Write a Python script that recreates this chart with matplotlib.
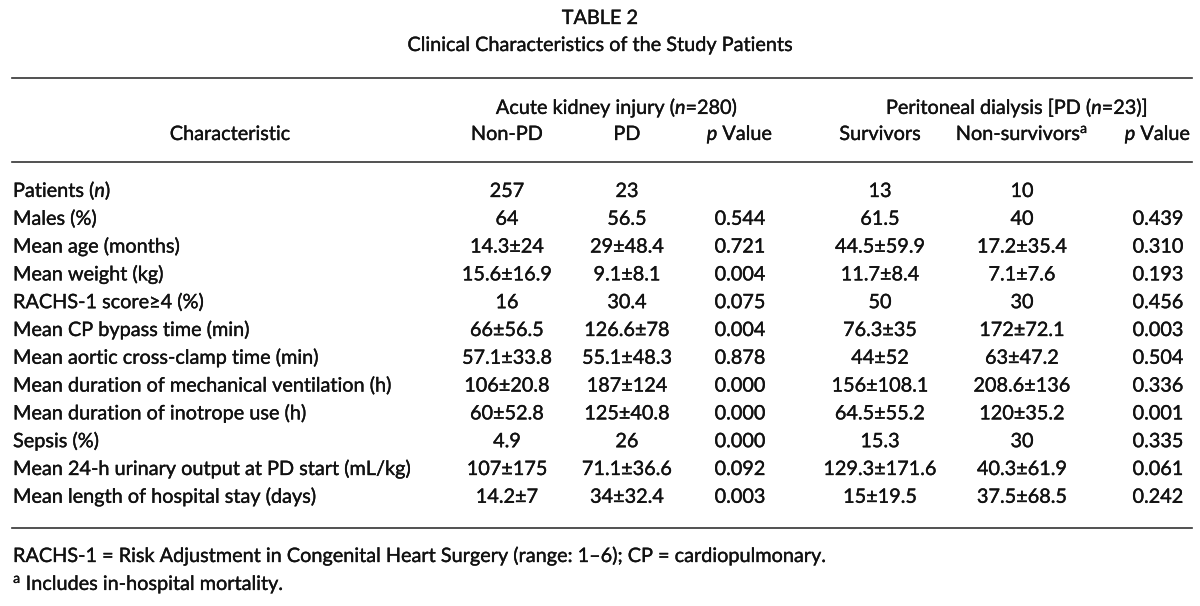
import matplotlib
matplotlib.use("Agg")
import matplotlib.pyplot as plt
import matplotlib.patheffects as pe

plt.rcParams['font.family'] = ['Lato', 'DejaVu Sans']
plt.rcParams['mathtext.fontset'] = 'custom'
plt.rcParams['mathtext.rm'] = 'Lato'
plt.rcParams['mathtext.it'] = 'Lato:italic'

title = "TABLE 2"
subtitle = "Clinical Characteristics of the Study Patients"

group_headers = [r"Acute kidney injury ($\mathit{n}$=280)",
                 r"Peritoneal dialysis [PD ($\mathit{n}$=23)]"]
col_headers = ["Characteristic", "Non-PD", "PD", r"$\mathit{p}$ Value",
               "Survivors", r"Non-survivors$^{\mathrm{a}}$", r"$\mathit{p}$ Value"]

characteristics = [
    r"Patients ($\mathit{n}$)",
    "Males (%)",
    "Mean age (months)",
    "Mean weight (kg)",
    "RACHS-1 score\u22654 (%)",
    "Mean CP bypass time (min)",
    "Mean aortic cross-clamp time (min)",
    "Mean duration of mechanical ventilation (h)",
    "Mean duration of inotrope use (h)",
    "Sepsis (%)",
    "Mean 24-h urinary output at PD start (mL/kg)",
    "Mean length of hospital stay (days)",
]
non_pd = ["257", "64", "14.3±24", "15.6±16.9", "16", "66±56.5", "57.1±33.8",
          "106±20.8", "60±52.8", "4.9", "107±175", "14.2±7"]
pd_vals = ["23", "56.5", "29±48.4", "9.1±8.1", "30.4", "126.6±78", "55.1±48.3",
           "187±124", "125±40.8", "26", "71.1±36.6", "34±32.4"]
p_aki = ["", "0.544", "0.721", "0.004", "0.075", "0.004", "0.878",
         "0.000", "0.000", "0.000", "0.092", "0.003"]
survivors = ["13", "61.5", "44.5±59.9", "11.7±8.4", "50", "76.3±35", "44±52",
             "156±108.1", "64.5±55.2", "15.3", "129.3±171.6", "15±19.5"]
non_survivors = ["10", "40", "17.2±35.4", "7.1±7.6", "30", "172±72.1", "63±47.2",
                 "208.6±136", "120±35.2", "30", "40.3±61.9", "37.5±68.5"]
p_pd = ["", "0.439", "0.310", "0.193", "0.456", "0.003", "0.504",
        "0.336", "0.001", "0.335", "0.061", "0.242"]

footnotes = ["RACHS-1 = Risk Adjustment in Congenital Heart Surgery (range: 1\u20136); CP = cardiopulmonary.",
             r"$^{\mathrm{a}}$ Includes in-hospital mortality."]

W, H = 1200, 606
fig = plt.figure(figsize=(W / 100, H / 100), dpi=100)
ax = fig.add_axes([0, 0, 1, 1])
ax.set_xlim(0, W)
ax.set_ylim(H, 0)
ax.axis("off")

fs = 14.3
color = "#111111"
cap = 7  # half cap height in px, baseline offset
# thin stroke for the slightly heavier look of the scanned table
heavy = [pe.withStroke(linewidth=0.25, foreground=color)]


def put(x, y, s, ha="center"):
    ax.text(x, y + cap, s, ha=ha, va="baseline", fontsize=fs, color=color,
            path_effects=heavy)


put(600, 17, title)
put(600, 44, subtitle)

ax.plot([12, 1192], [78, 78], color="#333333", lw=1.2)
ax.plot([12, 1192], [162, 162], color="#333333", lw=1.2)
ax.plot([12, 1192], [528, 528], color="#333333", lw=1.2)

put(617, 107, group_headers[0])
put(1017, 107, group_headers[1])

col_x = [230, 507, 627, 740, 880, 1022, 1158]
for x, s in zip(col_x, col_headers):
    put(x, 133, s)

row_y0, row_dy = 190, 27.8
columns = [non_pd, pd_vals, p_aki, survivors, non_survivors, p_pd]
for i, label in enumerate(characteristics):
    y = row_y0 + i * row_dy
    put(13, y, label, ha="left")
    for x, col in zip(col_x[1:], columns):
        put(x, y, col[i])

put(13, 555, footnotes[0], ha="left")
put(13, 583, footnotes[1], ha="left")

fig.savefig("out.png", dpi=100, facecolor="white")
